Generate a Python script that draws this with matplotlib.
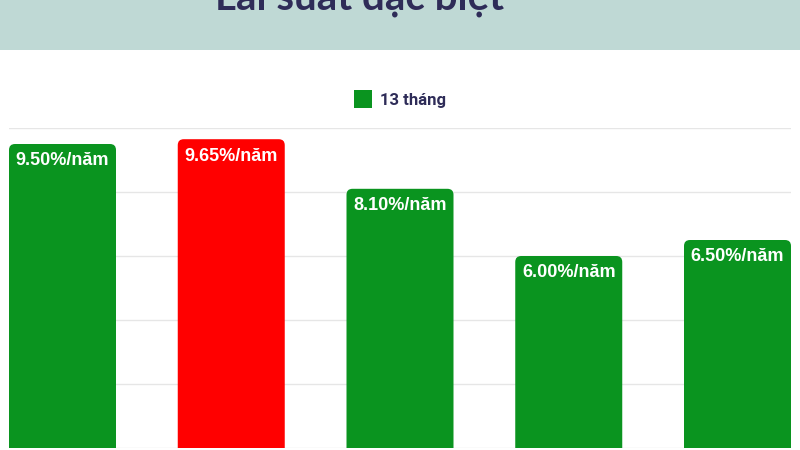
import matplotlib

matplotlib.use("Agg")
import matplotlib.pyplot as plt  # noqa: E402
from matplotlib.patches import FancyBboxPatch, Patch, Rectangle  # noqa: E402

# Values (13-month special rates, %/year)
rates = [9.50, 9.65, 8.10, 6.00, 6.50]
bar_colors = ["#0a941f", "#ff0000", "#0a941f", "#0a941f", "#0a941f"]
series_name = "13 tháng"
title = "Lãi suất đặc biệt"
y_ticks = [0, 2, 4, 6, 8, 10]

GREEN = "#0a941f"
NAVY = "#2e2c58"
BAND = "#bfd9d5"

plt.rcParams["font.family"] = ["Roboto", "DejaVu Sans"]

fig = plt.figure(figsize=(8, 4.5), dpi=100)

# header band with a title that is mostly cut off at the top edge
fig.patches.append(
    Rectangle((0, 1 - 50 / 450), 1, 50 / 450, transform=fig.transFigure,
              facecolor=BAND, edgecolor="none", zorder=0)
)
fig.text(0.449, 1 - 10 / 450, title, ha="center", va="baseline",
         fontsize=29, fontweight="bold", color=NAVY,
         family=["Lato", "DejaVu Sans"])

ax = fig.add_axes([9 / 800, 2 / 450, 782 / 800, 320 / 450])
bar_w = 107 / 168.75
x = list(range(len(rates)))
bars = ax.bar(x, rates, width=bar_w, color="none", edgecolor="none")

# px per data unit, used to keep the rounded corners round
px_x = 168.75
px_y = 32.0
radius_px = 6
for b, c, v in zip(bars, bar_colors, rates):
    patch = FancyBboxPatch(
        (b.get_x(), -1), b.get_width(), v + 1,
        boxstyle=f"round,pad=0,rounding_size={radius_px / px_x}",
        mutation_aspect=px_x / px_y,
        facecolor=c, edgecolor="none", zorder=2, clip_on=True,
    )
    ax.add_patch(patch)
    ax.annotate(f"{v:.2f}%/năm", (b.get_x() + b.get_width() / 2, v),
                xytext=(0, -6), textcoords="offset points",
                ha="center", va="top", color="white",
                fontsize=13, fontweight="bold", zorder=3,
                family=["Liberation Sans", "DejaVu Sans"])

ax.set_xlim(-bar_w / 2, len(rates) - 1 + bar_w / 2)
ax.set_ylim(0, 10)
ax.set_yticks(y_ticks)
ax.grid(axis="y", color="#e6e6e6", linewidth=1)
ax.set_axisbelow(True)
ax.tick_params(left=False, bottom=False, labelleft=False, labelbottom=False)
for s in ax.spines.values():
    s.set_visible(False)

fig.legend(handles=[Patch(facecolor=GREEN, edgecolor="none", label=series_name)],
           loc="center", bbox_to_anchor=(0.5, 1 - 99 / 450), frameon=False,
           handlelength=1.1, handleheight=1.3, handletextpad=0.5,
           prop={"size": 12, "weight": "bold"}, labelcolor=NAVY)

fig.savefig("out.png", dpi=100)
